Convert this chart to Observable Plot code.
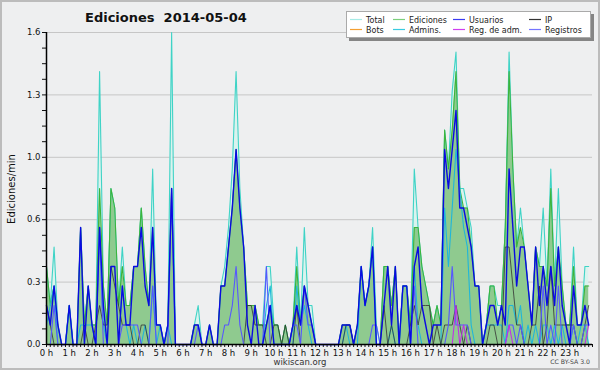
<!DOCTYPE html>
<html><head><meta charset="utf-8">
<script src="https://cdn.jsdelivr.net/npm/d3@7"></script>
<script src="https://cdn.jsdelivr.net/npm/@observablehq/plot@0.6"></script>
<style>
body{margin:0;background:#fff;}
#wrap{position:relative;width:600px;height:370px;background:#eeeff0;overflow:hidden;}
#frame{position:absolute;left:0;top:0;right:0;bottom:0;border:2px solid #bcbcbc;pointer-events:none;}
svg{display:block;}
</style></head><body><div id="wrap"><div id="frame"></div></div>
<script>
// ---- texts ----
const chartTitle = "Ediciones  2014-05-04";
const yTitle = "Ediciones/min";
const footer = "wikiscan.org";
const license = "CC BY-SA 3.0";
const hourLabels = d3.range(24).map(h => h + " h");
const yTickValues = [0, 0.32, 0.64, 0.96, 1.28, 1.6];
const legendNames = ["Total","Ediciones","Usuarios","IP","Bots","Admins.","Reg. de adm.","Registros"];
const legendColors = ["#a6ebe6","#7ccf7c","#3b3bf2","#333333","#f4a032","#3acbe0","#cf3ff0","#7575ff"];

// ---- series: edits per minute, one value per 10 minutes (00:00 .. 23:50) ----
const total = [
 0.4,0.2,0.5,0.1,0,0,  0.2,0,0,0.6,0.1,0.3,  0.1,0.1,1.4,0.3,0.1,0.8,  0.7,0.2,0.5,0.2,0.2,0.4,
 0.4,0.7,0.4,0.2,0.9,0.1,  0.1,0,0.1,1.6,0,0,  0,0,0,0.1,0.2,0,  0,0.1,0,0,0.3,0.4,
 0.6,0.9,1.4,0.8,0.5,0.2,  0.2,0.2,0.1,0.1,0.4,0.4,  0.1,0.1,0,0.1,0,0.1,  0.5,0.1,0.6,0.2,0.2,0,
 0,0,0,0,0,0,  0.1,0.1,0.1,0,0.1,0.4,  0.2,0.3,0.6,0.1,0,0.4,  0.4,0.2,0.4,0,0.3,0.3,
 0.1,0.9,0.6,0.4,0.3,0.2,  0.1,0.2,0.1,1.1,0.9,1.3,  1.5,0.8,0.8,0.7,0.6,0.3,  0.3,0,0.1,0.3,0.3,0.2,
 0.2,0.6,1.5,0.9,0.5,0.7,  0.5,0.3,0.1,0.5,0.4,0.7,  0.3,0.9,0.3,0.8,0.3,0.1,  0.1,0.5,0.1,0.1,0.4,0.4];
const ediciones = [
 0.4,0.2,0.3,0.1,0,0,  0.2,0,0,0.6,0.1,0.3,  0.1,0.1,0.8,0.3,0.1,0.8,  0.7,0.2,0.4,0.2,0.2,0.4,
 0.4,0.7,0.4,0.2,0.6,0.1,  0.1,0,0.1,0.8,0,0,  0,0,0,0.1,0.1,0,  0,0.1,0,0,0.3,0.3,
 0.5,0.7,1.0,0.7,0.5,0.2,  0.2,0.2,0.1,0.1,0.1,0.2,  0.1,0.1,0,0.1,0,0.1,  0.4,0.1,0.3,0.2,0.1,0,
 0,0,0,0,0,0,  0.1,0.1,0.1,0,0.1,0.4,  0.2,0.3,0.5,0,0,0.4,  0.4,0.2,0.4,0,0.3,0.3,
 0.1,0.6,0.6,0.4,0.3,0.2,  0.1,0.2,0.1,1.1,0.9,1.1,  1.4,0.8,0.7,0.7,0.5,0.3,  0.3,0,0.1,0.3,0.3,0.1,
 0.2,0.6,1.4,0.9,0.5,0.6,  0.5,0.3,0.1,0.5,0.4,0.4,  0.3,0.8,0.3,0.5,0.3,0.1,  0.1,0.4,0.1,0.1,0.3,0.3];
const usuarios = [
 0.2,0.1,0.3,0.1,0,0,  0.2,0,0,0.6,0,0.3,  0.1,0,0.6,0.2,0,0.4,  0.4,0,0.3,0.1,0.1,0.4,
 0.4,0.6,0.3,0.2,0.6,0.1,  0.1,0,0.1,0.8,0,0,  0,0,0,0.1,0.1,0,  0,0.1,0,0,0.3,0.3,
 0.5,0.7,1.0,0.7,0.5,0.1,  0,0.2,0,0,0.1,0.2,  0,0,0,0,0,0.1,  0.2,0.1,0.3,0.2,0.1,0,
 0,0,0,0,0,0,  0.1,0.1,0.1,0,0.1,0.4,  0.2,0.3,0.5,0,0,0.2,  0.4,0.1,0.4,0,0.3,0.3,
 0,0.4,0.5,0.2,0.1,0,  0.1,0.1,0.1,1.0,0.8,1.0,  1.2,0.7,0.7,0.6,0.5,0.3,  0.3,0,0.1,0.2,0.2,0.1,
 0.2,0.1,0.9,0.6,0.3,0.5,  0.5,0.3,0.1,0.5,0.2,0.4,  0.2,0.4,0.2,0.5,0.2,0.1,  0,0.3,0.1,0.1,0.2,0.1];
const ip = [
 0.2,0.1,0,0,0,0,  0,0,0,0,0.1,0,  0,0.1,0.2,0.1,0.1,0.4,  0.3,0.2,0.1,0.1,0.1,0,
 0,0.1,0.1,0,0,0,  0,0,0,0,0,0,  0,0,0,0,0,0,  0,0,0,0,0,0,
 0,0,0,0,0,0.2,  0.2,0.1,0.1,0.1,0,0,  0.1,0.1,0,0.1,0,0,  0.2,0,0,0,0,0,
 0,0,0,0,0,0,  0,0.1,0.1,0,0,0,  0,0,0,0,0,0.2,  0,0.1,0,0,0,0,
 0.1,0.2,0.1,0.2,0.2,0.2,  0,0.1,0,0.1,0.1,0.1,  0.2,0.1,0,0.1,0,0,  0,0,0,0.1,0.1,0,
 0,0.5,0.5,0.3,0.1,0.1,  0,0,0.1,0.1,0.3,0,  0.1,0.4,0.1,0.1,0.1,0.1,  0.1,0.1,0,0,0.1,0.2];
const admins = [
 0.1,0.2,0.3,0,0,0,  0.2,0,0,0.1,0.1,0.1,  0.1,0,0.6,0.1,0,0,  0,0,0.3,0.1,0,0.1,
 0,0,0.1,0,0.3,0,  0.1,0,0.1,0,0,0,  0,0,0,0,0,0,  0,0,0,0,0,0,
 0,0,0,0,0,0,  0,0,0,0,0.2,0.3,  0,0,0,0,0,0,  0.3,0.1,0.2,0.1,0,0,
 0,0,0,0,0,0,  0,0.1,0,0,0,0.4,  0.2,0.3,0.5,0,0,0,  0,0.1,0,0,0.3,0.3,
 0,0.4,0.1,0,0,0,  0,0,0,0.7,0.4,0.7,  1.0,0.8,0.6,0.5,0.1,0,  0,0,0.1,0.1,0.1,0.1,
 0.1,0,0.2,0.2,0.1,0.2,  0,0.1,0,0.1,0,0.1,  0.1,0,0.1,0,0.1,0,  0,0.1,0,0.1,0.1,0];
const registros = [
 0,0,0.2,0,0,0,  0,0,0,0,0,0,  0,0,0.6,0,0,0,  0,0,0.1,0.1,0.1,0.1,
 0.1,0,0,0,0.3,0,  0,0,0,0.8,0,0,  0,0,0,0,0.1,0,  0,0,0,0,0,0.1,
 0.1,0.2,0.4,0.1,0,0,  0,0,0,0,0.4,0,  0,0,0,0,0,0.1,  0.1,0,0.3,0.1,0.1,0,
 0,0,0,0,0,0,  0,0,0,0,0,0,  0,0,0.1,0.1,0,0,  0,0,0,0,0,0,
 0,0.3,0,0,0,0,  0,0,0,0,0.1,0.4,  0.1,0.1,0.1,0.1,0,0,  0,0,0,0,0,0,
 0,0,0.1,0.1,0,0.1,  0,0,0,0,0,0.3,  0,0.1,0,0.3,0,0,  0,0.1,0,0,0.1,0.1];
const regAdm = [
 0,0,0,0,0,0,  0,0,0,0,0,0,  0,0,0,0,0,0,  0,0,0,0,0,0,
 0,0,0,0,0,0,  0,0,0,0,0,0,  0,0,0,0,0,0,  0,0,0,0,0,0,
 0,0,0,0,0,0,  0,0,0,0,0,0,  0,0,0,0,0,0,  0,0,0,0,0,0,
 0,0,0,0,0,0,  0,0,0,0,0,0,  0,0,0,0,0,0,  0,0,0,0,0,0,
 0,0,0,0,0,0,  0,0,0,0,0,0,  0.2,0,0.1,0,0,0,  0,0,0,0,0,0,
 0,0,0.1,0,0,0,  0,0,0,0,0,0,  0,0,0,0,0,0,  0,0,0,0,0,0.1];

const rows = vals => vals.map((v, i) => ({h: i / 6, v}));
const xTicks = d3.range(145).map(k => k / 6);
const yTicks = d3.range(21).map(k => k * 0.08);

const line = (vals, stroke, w = 1.1, extra = {}) =>
  Plot.lineY(rows(vals), {x: "h", y: "v", stroke, strokeWidth: w, ...extra});

const chart = Plot.plot({
  width: 600, height: 370,
  marginLeft: 46, marginRight: 8, marginTop: 32, marginBottom: 26,
  style: {background: "transparent", fontFamily: "DejaVu Sans, sans-serif", fontSize: "8.5px", color: "#111"},
  x: {domain: [0, 24], ticks: xTicks, tickSize: 3, tickPadding: 2, label: null,
      tickFormat: d => { const k = Math.round(d * 6); return (k % 6 === 0 && k < 144) ? hourLabels[k / 6] : ""; }},
  y: {domain: [0, 1.6], ticks: yTicks, tickSize: 4, tickPadding: 2, label: null,
      tickFormat: d => { const k = Math.round(d / 0.08); return k % 4 === 0 ? d.toFixed(1) : ""; }},
  marks: [
    Plot.ruleY(yTickValues.slice(1), {stroke: "#c6c6c6", strokeWidth: 1}),
    Plot.areaY(rows(total), {x: "h", y: "v", fill: "#daf3ee"}),
    Plot.areaY(rows(ediciones), {x: "h", y: "v", fill: "#8fca8f"}),
    line(total, "#3fd3c6"),
    line(ediciones, "#3cb43c"),
    line(admins, "#1fb6da"),
    line(ip, "#333333", 1.0, {strokeOpacity: 0.8}),
    line(registros, "#5656ff"),
    line(regAdm, "#c22ee8"),
    line(usuarios, "#0a0ae2", 1.4),
    Plot.ruleX([0], {stroke: "#000", strokeWidth: 1.5}),
    Plot.ruleY([0], {stroke: "#000", strokeWidth: 1.5})
  ]
});
document.getElementById("wrap").prepend(chart);

const svg = d3.select(chart);
const font = "DejaVu Sans, sans-serif";
svg.append("text").attr("x", 85).attr("y", 22).attr("text-anchor", "start").attr("font-family", font)
  .attr("font-weight", "bold").attr("font-size", 13).attr("fill", "#111").text(chartTitle);
svg.append("text").attr("transform", "translate(15,189) rotate(-90)").attr("text-anchor", "middle")
  .attr("font-family", font).attr("font-size", 10).attr("fill", "#111").text(yTitle);
svg.append("text").attr("x", 300).attr("y", 365).attr("text-anchor", "middle")
  .attr("font-family", font).attr("font-size", 8.5).attr("fill", "#333").text(footer);
svg.append("text").attr("x", 590).attr("y", 364).attr("text-anchor", "end")
  .attr("font-family", font).attr("font-size", 6.2).attr("fill", "#444").text(license);

// legend
const lg = svg.append("g").attr("transform", "translate(346,11)");
lg.append("rect").attr("x", 3).attr("y", 3).attr("width", 245).attr("height", 27).attr("fill", "#858585");
lg.append("rect").attr("x", 0.5).attr("y", 0.5).attr("width", 244).attr("height", 26)
  .attr("fill", "#fff").attr("stroke", "#aaa");
const colX = [4, 47, 107, 183];
legendNames.forEach((name, k) => {
  const cx = colX[k % 4], cy = k < 4 ? 8.5 : 18.5;
  lg.append("line").attr("x1", cx).attr("x2", cx + 12).attr("y1", cy).attr("y2", cy)
    .attr("stroke", legendColors[k]).attr("stroke-width", 1.2);
  const t = lg.append("text").attr("x", cx + 16).attr("y", cy + 3.5).attr("text-anchor", "start")
    .attr("font-family", font).attr("font-size", 9.5).attr("fill", "#222").text(name);
  const w = t.node().getComputedTextLength();
  t.attr("textLength", (w * 0.84).toFixed(1)).attr("lengthAdjust", "spacingAndGlyphs");
});
</script></body></html>
